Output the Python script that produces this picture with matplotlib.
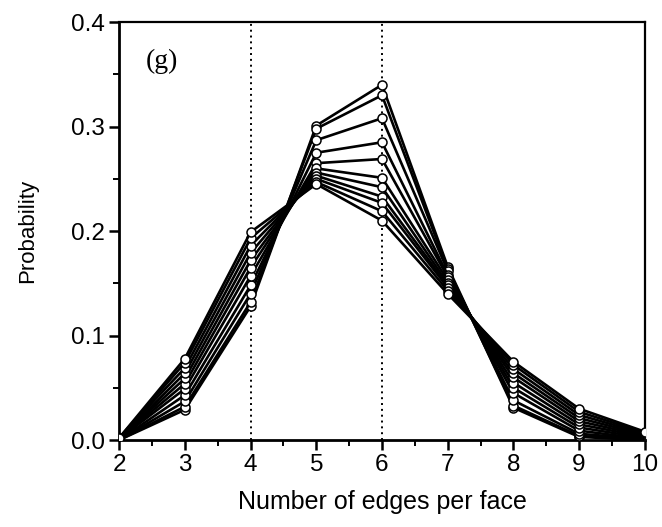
import numpy as np
import matplotlib.pyplot as plt
from matplotlib.ticker import MultipleLocator

# number of edges per face
edges = [2, 3, 4, 5, 6, 7, 8, 9, 10]

# one list per curve, narrowest distribution first
curves = [
    [0.000, 0.029, 0.128, 0.301, 0.340, 0.166, 0.031, 0.003, 0.000],
    [0.000, 0.032, 0.132, 0.298, 0.330, 0.164, 0.033, 0.004, 0.000],
    [0.000, 0.037, 0.140, 0.287, 0.308, 0.162, 0.038, 0.006, 0.001],
    [0.000, 0.043, 0.148, 0.275, 0.285, 0.158, 0.045, 0.009, 0.001],
    [0.001, 0.049, 0.157, 0.265, 0.269, 0.156, 0.050, 0.012, 0.002],
    [0.001, 0.054, 0.165, 0.260, 0.251, 0.153, 0.055, 0.015, 0.003],
    [0.001, 0.059, 0.172, 0.256, 0.242, 0.150, 0.060, 0.018, 0.004],
    [0.001, 0.064, 0.179, 0.253, 0.233, 0.148, 0.064, 0.021, 0.005],
    [0.002, 0.069, 0.186, 0.250, 0.227, 0.146, 0.068, 0.024, 0.006],
    [0.002, 0.074, 0.193, 0.247, 0.219, 0.143, 0.072, 0.027, 0.007],
    [0.002, 0.078, 0.199, 0.245, 0.210, 0.140, 0.075, 0.030, 0.008],
]

ref_lines = [4, 6]

plt.rcParams['font.family'] = ['Liberation Sans', 'DejaVu Sans']

fig = plt.figure(figsize=(6.62, 5.27), dpi=100)
ax = fig.add_axes([0.18, 0.165, 0.794, 0.793])

for x in ref_lines:
    ax.axvline(x, color='black', ls=(0, (1, 2)), lw=1.4, zorder=1)

for c in curves:
    ax.plot(edges, c, color='black', lw=1.9, marker='o', ms=6.5,
            mfc='white', mec='black', mew=1.1, zorder=3)

ax.text(2.4, 0.362, '(g)', family=['Liberation Serif', 'DejaVu Serif'],
        fontsize=20, va='center')

ax.set_xlim(2, 10)
ax.set_ylim(0, 0.4)
ax.xaxis.set_major_locator(MultipleLocator(1))
ax.xaxis.set_minor_locator(MultipleLocator(0.5))
ax.yaxis.set_major_locator(MultipleLocator(0.1))
ax.yaxis.set_minor_locator(MultipleLocator(0.05))
ax.yaxis.set_major_formatter(plt.FormatStrFormatter('%.1f'))
ax.tick_params(which='major', direction='out', length=7, width=1.8,
               labelsize=17.5, top=False, right=False, pad=3)
ax.tick_params(which='minor', direction='out', length=4, width=1.4,
               top=False, right=False)
for s in ax.spines.values():
    s.set_linewidth(1.6)
ax.spines['left'].set_linewidth(2.0)
ax.spines['bottom'].set_linewidth(2.0)

ax.set_xlabel('Number of edges per face', fontsize=18, labelpad=10)
ax.set_ylabel('Probability', fontsize=16, labelpad=24)

fig.savefig('out.png', dpi=100)
